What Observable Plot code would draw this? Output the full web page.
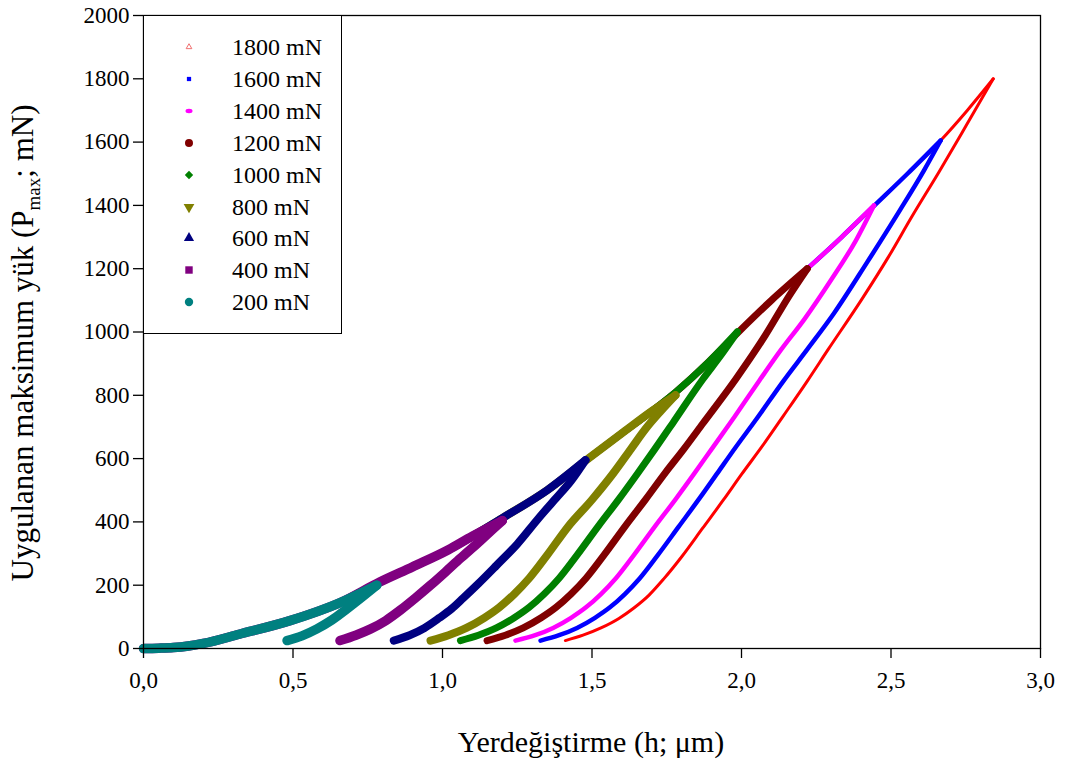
<!DOCTYPE html>
<html><head><meta charset="utf-8">
<script src="https://cdn.jsdelivr.net/npm/d3@7"></script>
<script src="https://cdn.jsdelivr.net/npm/@observablehq/plot@0.6"></script>
<style>
body{margin:0;background:#fff;}
#wrap{position:relative;width:1066px;height:765px;}
#legend{position:absolute;left:143px;top:15px;width:197px;height:317px;border:1px solid #000;background:#fff;font-family:"Liberation Serif",serif;font-size:24px;color:#000;}
.row{position:absolute;left:0;height:30px;width:197px;}
.row svg{position:absolute;left:35px;top:5px;}
.row span{position:absolute;left:88px;top:1px;line-height:28px;}
</style></head><body><div id="wrap"></div>
<script>
// ---- data ----
const seriesLabels = ["1800 mN","1600 mN","1400 mN","1200 mN","1000 mN","800 mN","600 mN","400 mN","200 mN"];
const seriesColors = ["#ff0000","#0000ff","#ff00ff","#800000","#008000","#808000","#000080","#800080","#008080"];
const lineWidths = [3,4.5,4.5,7,7,8,8,9.5,9.5];
const xTicks = [0,0.5,1.0,1.5,2.0,2.5,3.0];
const yTicks = [0,200,400,600,800,1000,1200,1400,1600,1800,2000];

// common loading curve (h in µm, P in mN)
const loadH = [0.00,0.05,0.10,0.15,0.20,0.32,0.49,0.66,0.79,0.90,1.02,1.10,1.20,1.35,1.49,1.60,1.70,1.78,1.89,1.99,2.10,2.22,2.335,2.445,2.555,2.666,2.755,2.842];
const loadP = [0,1,3,8,16,45,88,146,210,258,312,355,412,500,602,680,750,810,905,1000,1100,1200,1300,1400,1500,1605,1700,1800];

// unloading curves, from final depth up to the peak
const unload1800H = [1.411,1.47,1.53,1.59,1.64,1.69,1.74,1.80,1.87,1.94,2.00,2.07,2.14,2.22,2.29,2.40,2.49,2.57,2.66,2.75,2.842];
const unload1800P = [25,42,65,95,128,168,220,290,380,470,550,640,735,845,945,1100,1235,1365,1505,1650,1800];
const unload1600H = [1.328,1.39,1.45,1.51,1.56,1.61,1.66,1.72,1.79,1.86,1.92,1.98,2.05,2.14,2.22,2.31,2.42,2.53,2.61,2.666];
const unload1600P = [25,42,65,97,130,172,222,295,385,475,555,635,725,845,945,1060,1220,1385,1510,1605];
const unload1400H = [1.244,1.31,1.37,1.43,1.48,1.53,1.58,1.64,1.71,1.78,1.84,1.90,1.975,2.06,2.13,2.21,2.30,2.38,2.443];
const unload1400P = [25,42,65,97,130,172,222,295,385,472,550,630,730,847,941,1040,1165,1285,1400];
const unload1200H = [1.149,1.21,1.27,1.33,1.38,1.43,1.48,1.54,1.61,1.68,1.745,1.807,1.87,1.98,2.08,2.16,2.22];
const unload1200P = [25,42,65,97,130,172,222,295,385,472,555,630,710,850,990,1115,1200];
const unload1000H = [1.06,1.12,1.18,1.24,1.29,1.34,1.39,1.45,1.52,1.59,1.65,1.71,1.77,1.87,1.93,1.986];
const unload1000P = [25,42,65,97,130,172,222,295,385,472,550,630,712,850,925,1000];
const unload800H = [0.96,1.02,1.08,1.14,1.19,1.24,1.29,1.35,1.42,1.50,1.57,1.63,1.68,1.73,1.779];
const unload800P = [25,42,65,97,130,172,222,295,385,470,552,630,695,750,800];
const unload600H = [0.837,0.89,0.94,0.99,1.03,1.07,1.12,1.18,1.25,1.32,1.38,1.43,1.478];
const unload600P = [25,42,65,97,125,160,205,262,330,410,475,530,595];
const unload400H = [0.657,0.71,0.76,0.81,0.86,0.91,0.96,1.01,1.06,1.12,1.16,1.20];
const unload400P = [25,42,62,88,122,160,200,242,285,335,370,404];
const unload200H = [0.48,0.53,0.58,0.63,0.68,0.73,0.78];
const unload200P = [25,40,62,90,125,162,200];

const unloadsH = [unload1800H,unload1600H,unload1400H,unload1200H,unload1000H,unload800H,unload600H,unload400H,unload200H];
const unloadsP = [unload1800P,unload1600P,unload1400P,unload1200P,unload1000P,unload800P,unload600P,unload400P,unload200P];

// ---- per-series loading segment (up to the peak) and unloading segment ----
const lineMarks = [];
seriesLabels.forEach((lab, i) => {
  const uh = unloadsH[i], up = unloadsP[i];
  const hmax = uh[uh.length - 1], pmax = up[up.length - 1];
  const loading = loadH.map((h, j) => ({h, p: loadP[j]})).filter(d => d.h < hmax - 0.01);
  loading.push({h: hmax, p: pmax});
  const unloading = uh.map((h, j) => ({h, p: up[j]}));
  const opts = {x: "h", y: "p", stroke: seriesColors[i], strokeWidth: lineWidths[i],
    strokeLinejoin: "round", strokeLinecap: "round", curve: "monotone-x"};
  lineMarks.push(Plot.line(loading, opts), Plot.line(unloading, opts));
});

const chart = Plot.plot({
  width: 1066, height: 765,
  marginLeft: 143, marginRight: 26, marginTop: 15, marginBottom: 117,
  style: {fontFamily: "'Liberation Serif', serif", fontSize: "23px", color: "#000", background: "#fff"},
  x: {domain: [0, 3], label: null},
  y: {domain: [0, 2000], label: null},
  marks: [
    ...lineMarks,
    Plot.frame({stroke: "#000", strokeWidth: 1.3}),
    Plot.axisX({ticks: xTicks, tickSize: 10, tickPadding: 13, tickFormat: d => d.toFixed(1).replace(".", ","), label: null, fontSize: 23, strokeWidth: 1.3}),
    Plot.axisY({ticks: yTicks, tickSize: 10, tickPadding: 4, tickFormat: d => String(d), label: null, fontSize: 23, strokeWidth: 1.3})
  ]
});

const wrap = document.getElementById("wrap");
wrap.appendChild(chart);

// axis titles
const svg = d3.select(chart);
svg.append("text")
  .attr("x", 591).attr("y", 752)
  .attr("text-anchor", "middle")
  .attr("font-family", "'Liberation Serif', serif")
  .attr("font-size", 30)
  .attr("fill", "#000")
  .text("Yerdeğiştirme (h; μm)");

const yl = svg.append("text")
  .attr("transform", "translate(33,343) rotate(-90)")
  .attr("text-anchor", "middle")
  .attr("font-family", "'Liberation Serif', serif")
  .attr("font-size", 31)
  .attr("fill", "#000");
yl.append("tspan").text("Uygulanan maksimum yük (P");
yl.append("tspan").attr("font-size", 19).attr("dy", 7).text("max");
yl.append("tspan").attr("dy", -7).text("; mN)");

// legend box
const legend = d3.select(wrap).append("div").attr("id", "legend");
const symbols = [
  {type: d3.symbolTriangle, size: 14, open: true},
  {type: d3.symbolSquare, size: 18},
  {type: "dash"},
  {type: d3.symbolCircle, size: 50},
  {type: d3.symbolDiamond2, size: 45},
  {type: "inv", size: 50},
  {type: d3.symbolTriangle, size: 45},
  {type: d3.symbolSquare, size: 55},
  {type: d3.symbolCircle, size: 55}
];
seriesLabels.forEach((lab, i) => {
  const row = legend.append("div").attr("class", "row").style("top", (16 + i * 31.9) + "px");
  const s = row.append("svg").attr("width", 20).attr("height", 20);
  const sym = symbols[i];
  const g = s.append("g").attr("transform", "translate(10,10)");
  if (sym.type === "dash") {
    g.append("ellipse").attr("rx", 3.5).attr("ry", 2.2).attr("fill", seriesColors[i]);
  } else if (sym.type === "inv") {
    g.append("path").attr("d", d3.symbol(d3.symbolTriangle, sym.size)()).attr("transform", "rotate(180)").attr("fill", seriesColors[i]);
  } else if (sym.open) {
    g.append("path").attr("d", d3.symbol(sym.type, sym.size)()).attr("fill", "none").attr("stroke", "#f07070").attr("stroke-width", 1);
  } else {
    g.append("path").attr("d", d3.symbol(sym.type, sym.size)()).attr("fill", seriesColors[i]);
  }
  row.append("span").text(lab);
});
</script>
</body></html>
